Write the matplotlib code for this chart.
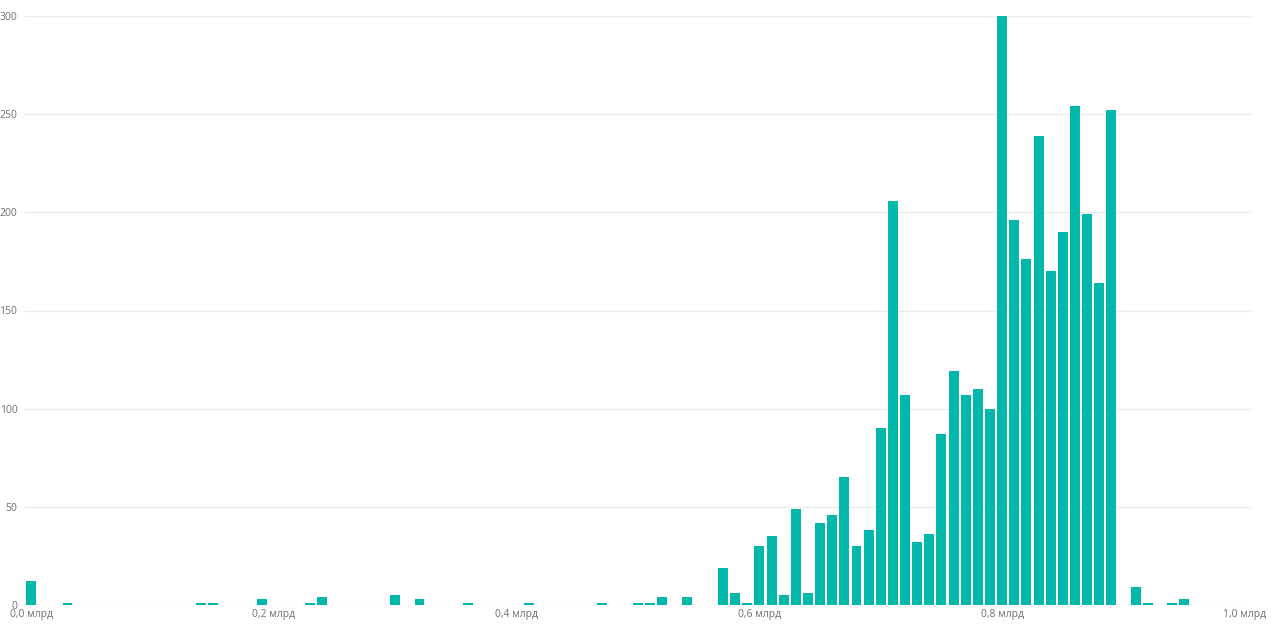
import matplotlib.pyplot as plt
from matplotlib.ticker import FuncFormatter

# Bin centres (billions) and counts
bin_centers = [0.00, 0.03, 0.14, 0.15, 0.19, 0.23, 0.24, 0.30, 0.32, 0.36,
               0.41, 0.47, 0.50, 0.51, 0.52, 0.54, 0.57, 0.58, 0.59, 0.60,
               0.61, 0.62, 0.63, 0.64, 0.65, 0.66, 0.67, 0.68, 0.69, 0.70,
               0.71, 0.72, 0.73, 0.74, 0.75, 0.76, 0.77, 0.78, 0.79, 0.80,
               0.81, 0.82, 0.83, 0.84, 0.85, 0.86, 0.87, 0.88, 0.89, 0.91,
               0.92, 0.94, 0.95]
counts = [12, 1, 1, 1, 3, 1, 4, 5, 3, 1,
          1, 1, 1, 1, 4, 4, 19, 6, 1, 30,
          35, 5, 49, 6, 42, 46, 65, 30, 38, 90,
          206, 107, 32, 36, 87, 119, 107, 110, 100, 300,
          196, 176, 239, 170, 190, 254, 199, 164, 252, 9,
          1, 1, 3]

x_ticks = [0.0, 0.2, 0.4, 0.6, 0.8, 1.0]
y_ticks = [0, 50, 100, 150, 200, 250, 300]

BAR_COLOR = '#01B8AA'
TEXT_COLOR = '#707070'
GRID_COLOR = '#EBEBEB'

plt.rcParams['font.family'] = ['Open Sans', 'DejaVu Sans']

fig = plt.figure(figsize=(12.76, 6.30), dpi=100)
ax = fig.add_axes([25 / 1276, 25 / 630, 1226 / 1276, 589 / 630])

ax.bar(bin_centers, counts, width=0.0082, color=BAR_COLOR, zorder=3)

ax.set_xlim(-0.005, 1.005)
ax.set_ylim(0, 300)
ax.set_xticks(x_ticks)
ax.set_yticks(y_ticks)
ax.xaxis.set_major_formatter(FuncFormatter(lambda v, p: f"{v:.1f}".replace('.', ',') + ' млрд'))

ax.grid(axis='y', color=GRID_COLOR, linewidth=1, zorder=0)
ax.grid(axis='x', visible=False)
for s in ax.spines.values():
    s.set_visible(False)
ax.tick_params(axis='both', length=0, labelsize=7.5, labelcolor=TEXT_COLOR)
ax.tick_params(axis='y', pad=5.5)
ax.tick_params(axis='x', pad=3)

# visual header "more options" icon, cut off at the top edge
fig.text(1262 / 1276, 1.0, '⋯', color='#666666', fontsize=11, ha='center', va='center')

fig.savefig('out.png', dpi=100)
